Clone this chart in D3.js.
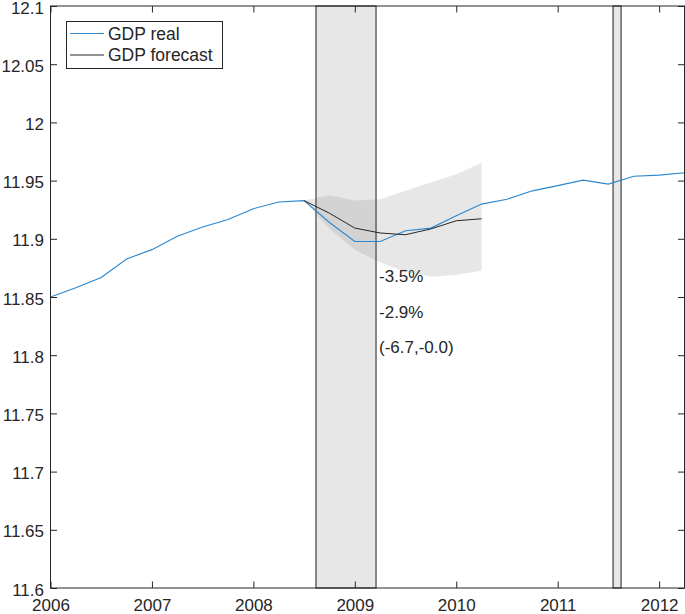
<!DOCTYPE html>
<html>
<head>
<meta charset="utf-8">
<script src="https://cdn.jsdelivr.net/npm/d3@7"></script>
<style>
  html, body { margin: 0; padding: 0; background: #fff; }
  svg { display: block; }
  text { font-family: "Liberation Sans", Arial, Helvetica, sans-serif; fill: #262626; }
</style>
</head>
<body>
<svg id="chart" width="685" height="614"></svg>
<script>
// ---- data ----
const realDates = [2006, 2006.25, 2006.5, 2006.75, 2007, 2007.25, 2007.5, 2007.75,
  2008, 2008.25, 2008.5, 2008.75, 2009, 2009.25, 2009.5, 2009.75,
  2010, 2010.25, 2010.5, 2010.75, 2011, 2011.25, 2011.5, 2011.75, 2012, 2012.25];
const gdpReal = [11.850, 11.858, 11.8667, 11.8827, 11.8907, 11.9021, 11.9101, 11.9165,
  11.9259, 11.9316, 11.9328, 11.9140, 11.8977, 11.8977, 11.9069, 11.9092,
  11.9197, 11.9298, 11.9340, 11.9412, 11.9457, 11.9504, 11.9470, 11.9538, 11.9547, 11.9567];

const forecastDates = [2008.5, 2008.75, 2009, 2009.25, 2009.5, 2009.75, 2010, 2010.25];
const gdpForecast = [11.9328, 11.9220, 11.9092, 11.9050, 11.9035, 11.9085, 11.9155, 11.9172];
const bandUpper = [11.9328, 11.9375, 11.9328, 11.9340, 11.9412, 11.9483, 11.9555, 11.9653];
const bandLower = [11.9328, 11.9086, 11.8906, 11.8797, 11.8717, 11.8674, 11.8691, 11.8725];

const recessionStart = [2008.617, 2011.546];
const recessionEnd = [2009.209, 2011.625];

const annotationTexts = ["-3.5%", "-2.9%", "(-6.7,-0.0)"];
const annotationY = [11.8685, 11.8375, 11.8075];

const xTicks = [2006, 2007, 2008, 2009, 2010, 2011, 2012];
const yTicks = [11.6, 11.65, 11.7, 11.75, 11.8, 11.85, 11.9, 11.95, 12, 12.05, 12.1];
const seriesNames = ["GDP real", "GDP forecast"];
const seriesColors = ["#2b87cf", "#262626"];

// ---- layout ----
const mLeft = 50.5, mRight = 684.5, mTop = 6, mBottom = 588;
const svg = d3.select("#chart");
const x = d3.scaleLinear().domain([2006, 2012.25]).range([mLeft, mRight]);
const y = d3.scaleLinear().domain([11.6, 12.1]).range([mBottom, mTop]);

const plot = svg.append("g");

// confidence band
const bandData = forecastDates.map((d, i) => ({ d, lo: bandLower[i], hi: bandUpper[i] }));
plot.append("path")
  .datum(bandData)
  .attr("d", d3.area().x(p => x(p.d)).y0(p => y(p.lo)).y1(p => y(p.hi)))
  .attr("fill", "rgb(128,128,128)")
  .attr("fill-opacity", 0.19)
  .attr("stroke", "none");

// recession bars
const recessions = recessionStart.map((s, i) => ({ s, e: recessionEnd[i] }));
plot.selectAll("rect.rec")
  .data(recessions)
  .join("rect")
  .attr("class", "rec")
  .attr("x", r => x(r.s))
  .attr("width", r => x(r.e) - x(r.s))
  .attr("y", y(12.1))
  .attr("height", y(11.6) - y(12.1))
  .attr("fill", "rgb(128,128,128)")
  .attr("fill-opacity", 0.19)
  .attr("stroke", "#5a5a5a")
  .attr("stroke-width", 1.4);

// lines
const line = d3.line().x(p => x(p[0])).y(p => y(p[1]));
plot.append("path")
  .datum(realDates.map((d, i) => [d, gdpReal[i]]))
  .attr("d", line)
  .attr("fill", "none")
  .attr("stroke", seriesColors[0])
  .attr("stroke-width", 1.1);
plot.append("path")
  .datum(forecastDates.map((d, i) => [d, gdpForecast[i]]))
  .attr("d", line)
  .attr("fill", "none")
  .attr("stroke", seriesColors[1])
  .attr("stroke-width", 1);

// annotations
plot.selectAll("text.ann")
  .data(annotationTexts)
  .join("text")
  .attr("class", "ann")
  .attr("x", x(recessionEnd[0]) + 3)
  .attr("y", (t, i) => y(annotationY[i]))
  .attr("dy", "0.36em")
  .attr("font-size", 17)
  .text(t => t);

// axes (MATLAB style box, ticks inward)
const tickLen = 6.5;
const axisColor = "#262626";
const axB = d3.axisBottom(x).tickValues(xTicks).tickFormat(d3.format("d")).tickSizeInner(-tickLen).tickSizeOuter(0).tickPadding(11);
const axT = d3.axisTop(x).tickValues(xTicks).tickFormat("").tickSizeInner(-tickLen).tickSizeOuter(0);
const axL = d3.axisLeft(y).tickValues(yTicks).tickFormat(d => d3.format("")(+d.toFixed(2))).tickSizeInner(-tickLen).tickSizeOuter(0).tickPadding(6.5);
const axR = d3.axisRight(y).tickValues(yTicks).tickFormat("").tickSizeInner(-tickLen).tickSizeOuter(0);

function style(g) {
  g.select(".domain").remove();
  g.selectAll(".tick line").attr("stroke", axisColor).attr("stroke-width", 1);
  g.selectAll(".tick text").attr("font-size", 17).attr("fill", axisColor)
    .style("font-family", '"Liberation Sans", Arial, Helvetica, sans-serif');
}
svg.append("g").attr("transform", `translate(0,${mBottom})`).call(axB).call(style)
  .selectAll(".tick text").attr("dy", "0.71em");
svg.append("g").attr("transform", `translate(0,${mTop})`).call(axT).call(style);
svg.append("g").attr("transform", `translate(${mLeft},0)`).call(axL).call(style)
  .selectAll(".tick text").attr("dy", "0.42em");
svg.append("g").attr("transform", `translate(${mRight},0)`).call(axR).call(style);

svg.append("rect")
  .attr("x", mLeft).attr("y", mTop)
  .attr("width", mRight - mLeft).attr("height", mBottom - mTop)
  .attr("fill", "none").attr("stroke", axisColor).attr("stroke-width", 1);

// legend
const lg = svg.append("g");
lg.append("rect")
  .attr("x", 66.5).attr("y", 21.5).attr("width", 156).attr("height", 47)
  .attr("fill", "#fff").attr("stroke", axisColor).attr("stroke-width", 1);
seriesNames.forEach((name, i) => {
  const ly = 33.5 + i * 21.5;
  lg.append("line").attr("x1", 70).attr("x2", 104).attr("y1", ly).attr("y2", ly)
    .attr("stroke", seriesColors[i]).attr("stroke-width", 1);
  lg.append("text").attr("x", 108).attr("y", ly).attr("dy", "0.36em")
    .attr("font-size", 17.5).text(name);
});
</script>
</body>
</html>
